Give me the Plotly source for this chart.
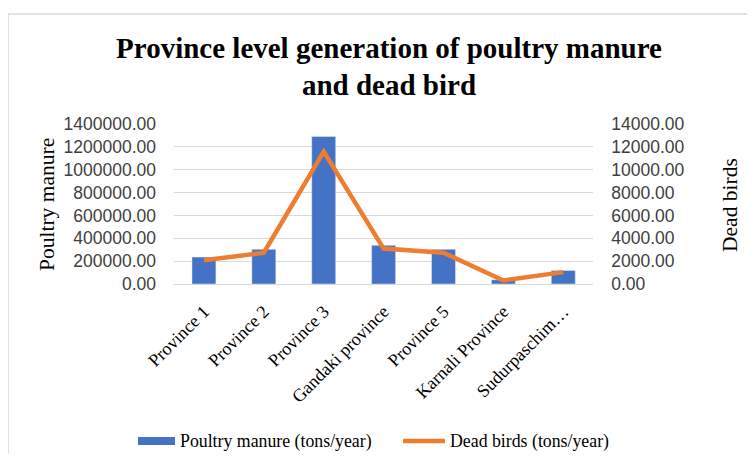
import plotly.graph_objects as go
from plotly.subplots import make_subplots

provinces = ["Province 1", "Province 2", "Province 3", "Gandaki province",
             "Province 5", "Karnali Province", "Sudurpaschim…"]
poultry_manure = [236000, 303000, 1291000, 338000, 303000, 37000, 119000]
dead_birds = [2070, 2740, 11590, 3100, 2740, 310, 1040]

left_ticks = [0, 200000, 400000, 600000, 800000, 1000000, 1200000, 1400000]
right_ticks = [0, 2000, 4000, 6000, 8000, 10000, 12000, 14000]

SERIF = "Liberation Serif"
SANS = "Liberation Sans"
GRID = "#d9d9d9"
BLUE = "#4472C4"
ORANGE = "#ED7D31"

# page body has an 8px margin, so the figure is laid out 8px in from the window
W, H = 747, 446
L, R, T, B = 166, 612, 116, 276


def px(x):
    return (x - L) / (R - L)


def py(y):
    return (B - y) / (B - T)


fig = make_subplots(specs=[[{"secondary_y": True}]])

fig.add_trace(
    go.Bar(x=provinces, y=poultry_manure, name="Poultry manure (tons/year)",
           marker_color=BLUE, showlegend=False),
    secondary_y=False,
)
fig.add_trace(
    go.Scatter(x=provinces, y=dead_birds, name="Dead birds (tons/year)",
               mode="lines", line=dict(color=ORANGE, width=4.5), showlegend=False),
    secondary_y=True,
)

fig.update_yaxes(
    range=[0, 1400000], tickvals=left_ticks,
    ticktext=[f"{v:.2f}" for v in left_ticks],
    showgrid=True, gridcolor=GRID, gridwidth=1,
    zeroline=False, showline=False,
    tickfont=dict(family=SANS, size=17.5, color="#404040"),
    ticklabelstandoff=17,
    secondary_y=False,
)
fig.update_yaxes(
    range=[0, 14000], tickvals=right_ticks,
    ticktext=[f"{v:.2f}" for v in right_ticks],
    showgrid=False, zeroline=False, showline=False,
    tickfont=dict(family=SANS, size=17.5, color="#404040"),
    ticklabelstandoff=17,
    secondary_y=True,
)
fig.update_xaxes(
    tickangle=-45,
    tickfont=dict(family=SERIF, size=18, color="#000000"),
    ticklabelstandoff=9,
    showline=True, linecolor=GRID, linewidth=1,
    ticks="",
)

legend_font = dict(family=SERIF, size=17.8, color="#000000")

fig.update_layout(
    width=W, height=H,
    margin=dict(l=L, r=W - R, t=T, b=H - B),
    bargap=0.6,
    plot_bgcolor="white",
    paper_bgcolor="white",
    title=dict(
        text="<b>Province level generation of poultry manure<br>and dead bird</b>",
        x=px(381), xref="paper", xanchor="center",
        y=0.889, yanchor="middle",
        font=dict(family=SERIF, size=29, color="#000000"),
    ),
    annotations=[
        dict(text="Poultry manure", xref="paper", yref="paper",
             x=px(39), y=0.494, xanchor="center", yanchor="middle",
             textangle=-90, showarrow=False,
             font=dict(family=SERIF, size=21.5, color="#000000")),
        dict(text="Dead birds", xref="paper", yref="paper",
             x=px(722), y=0.494, xanchor="center", yanchor="middle",
             textangle=-90, showarrow=False,
             font=dict(family=SERIF, size=21.5, color="#000000")),
        dict(text="Poultry manure (tons/year)", xref="paper", yref="paper",
             x=px(170), y=py(433), xanchor="left", yanchor="middle",
             showarrow=False, font=legend_font),
        dict(text="Dead birds (tons/year)", xref="paper", yref="paper",
             x=px(440), y=py(433), xanchor="left", yanchor="middle",
             showarrow=False, font=legend_font),
    ],
    shapes=[
        dict(type="rect", xref="paper", yref="paper",
             x0=px(0), x1=px(W + 20), y0=py(H + 20), y1=py(6),
             line=dict(color="#d9d9d9", width=1.5), layer="below"),
        dict(type="rect", xref="paper", yref="paper",
             x0=px(130), x1=px(167), y0=py(437), y1=py(429),
             fillcolor=BLUE, line=dict(width=0)),
        dict(type="line", xref="paper", yref="paper",
             x0=px(395), x1=px(437), y0=py(433), y1=py(433),
             line=dict(color=ORANGE, width=4.5)),
    ],
)

fig.write_html("out.html")
